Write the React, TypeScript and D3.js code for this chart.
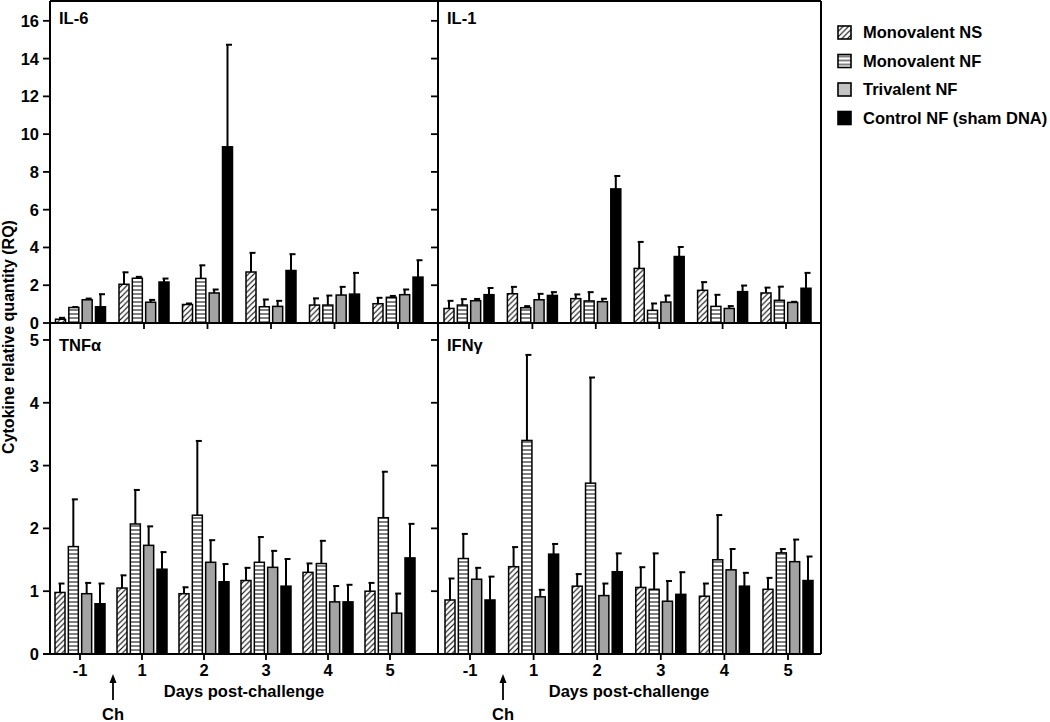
import React from 'react';
import * as d3 from 'd3';

// categories
const days = ['-1', '1', '2', '3', '4', '5'];
const groups = ['Monovalent NS', 'Monovalent NF', 'Trivalent NF', 'Control NF (sham DNA)'];

// IL-6 (mean per group, one value per day) and upper error
const il6Mean = [
  [0.2, 2.05, 0.98, 2.7, 0.95, 1.02],
  [0.82, 2.37, 2.36, 0.86, 0.95, 1.36],
  [1.23, 1.1, 1.59, 0.88, 1.48, 1.5],
  [0.86, 2.17, 9.33, 2.78, 1.53, 2.43],
];
const il6Err = [
  [0.1, 0.66, 0.08, 1.04, 0.38, 0.34],
  [0.05, 0.1, 0.72, 0.41, 0.53, 0.1],
  [0.09, 0.15, 0.21, 0.32, 0.46, 0.3],
  [0.69, 0.21, 5.43, 0.89, 1.15, 0.92],
];

const il1Mean = [
  [0.77, 1.55, 1.29, 2.89, 1.73, 1.59],
  [0.95, 0.81, 1.17, 0.67, 0.88, 1.2],
  [1.18, 1.23, 1.13, 1.11, 0.77, 1.09],
  [1.5, 1.46, 7.1, 3.52, 1.66, 1.84],
];
const il1Err = [
  [0.43, 0.39, 0.25, 1.43, 0.46, 0.31],
  [0.34, 0.11, 0.49, 0.39, 0.64, 0.75],
  [0.12, 0.34, 0.18, 0.37, 0.15, 0.06],
  [0.38, 0.2, 0.71, 0.53, 0.35, 0.84],
];

const tnfMean = [
  [0.98, 1.05, 0.96, 1.17, 1.3, 1.0],
  [1.71, 2.07, 2.21, 1.46, 1.44, 2.17],
  [0.96, 1.73, 1.46, 1.38, 0.83, 0.65],
  [0.8, 1.35, 1.15, 1.08, 0.83, 1.53],
];
const tnfErr = [
  [0.15, 0.21, 0.11, 0.21, 0.15, 0.14],
  [0.76, 0.55, 1.19, 0.41, 0.37, 0.74],
  [0.18, 0.31, 0.36, 0.27, 0.26, 0.32],
  [0.33, 0.28, 0.29, 0.44, 0.28, 0.55],
];

const ifnMean = [
  [0.86, 1.39, 1.08, 1.06, 0.92, 1.03],
  [1.52, 3.4, 2.72, 1.03, 1.5, 1.61],
  [1.19, 0.91, 0.93, 0.84, 1.34, 1.47],
  [0.86, 1.59, 1.31, 0.95, 1.08, 1.17],
];
const ifnErr = [
  [0.35, 0.32, 0.2, 0.33, 0.21, 0.19],
  [0.4, 1.37, 1.69, 0.58, 0.72, 0.07],
  [0.19, 0.12, 0.2, 0.33, 0.34, 0.36],
  [0.38, 0.17, 0.3, 0.36, 0.22, 0.39],
];

const topTicks = [0, 2, 4, 6, 8, 10, 12, 14, 16];
const bottomTicks = [0, 1, 2, 3, 4, 5];

const fills = ['url(#diag)', 'url(#horiz)', '#a3a3a3', '#000'];
const FONT = '"Liberation Sans", Arial, Helvetica, sans-serif';

const L = 50, M = 438, R = 821, T = 1, MID = 323, B = 654;

interface PanelProps {
  name: string;
  mean: number[][];
  err: number[][];
  y: d3.ScaleLinear<number, number>;
  x0: number;
  x1: number;
  left: number;
  labelY: number;
  showXLabels: boolean;
}

const Panel: React.FC<PanelProps> = ({ name, mean, err, y, x0, x1, left, labelY, showXLabels }) => {
  const xDay = d3.scaleLinear().domain([0, days.length - 1]).range([x0, x1]);
  const xBar = d3.scaleBand().domain(groups).range([-25, 25]).paddingInner(0.25);
  const bw = xBar.bandwidth();
  const base = y(0);
  return (
    <g>
      <text x={left + 9} y={labelY} fontSize={16.5} fontWeight="bold" fontFamily={FONT}>{name}</text>
      {groups.map((g, gi) =>
        days.map((d, di) => {
          const cx = xDay(di) + xBar(g)!;
          const v = mean[gi][di];
          const e = v + err[gi][di];
          const mid = cx + bw / 2;
          return (
            <g key={g + d}>
              <line x1={mid} x2={mid} y1={y(v)} y2={y(e)} stroke="#000" strokeWidth={2} />
              <line x1={mid - 1.5} x2={mid + 4.5} y1={y(e) + 0.5} y2={y(e) + 0.5} stroke="#000" strokeWidth={2} />
              <rect x={cx} y={y(v)} width={bw} height={base - y(v)} fill={fills[gi]} stroke="#000" strokeWidth={1.5} />
            </g>
          );
        })
      )}
      {days.map((d, di) => (
        <g key={d}>
          <line x1={xDay(di)} x2={xDay(di)} y1={base} y2={base + 6} stroke="#000" strokeWidth={1.8} />
          {showXLabels && (
            <text x={xDay(di)} y={base + 22} textAnchor="middle" fontSize={16.5} fontWeight="bold" fontFamily={FONT}>{d}</text>
          )}
        </g>
      ))}
    </g>
  );
};

const App: React.FC = () => {
  const yTop = d3.scaleLinear().domain([0, 17.05]).range([MID, T]);
  const yBot = d3.scaleLinear().domain([0, 5.27]).range([B, MID]);

  const yTicks = (scale: d3.ScaleLinear<number, number>, ticks: number[], x: number, labels: boolean) =>
    ticks.map((t) => (
      <g key={t}>
        <line x1={x - 7} x2={x} y1={scale(t)} y2={scale(t)} stroke="#000" strokeWidth={1.8} />
        {labels && (
          <text x={x - 11} y={scale(t) + 6} textAnchor="end" fontSize={16.5} fontWeight="bold" fontFamily={FONT}>{t}</text>
        )}
      </g>
    ));

  const arrow = (x: number) => (
    <g>
      <line x1={x} x2={x} y1={700} y2={680} stroke="#000" strokeWidth={1.8} />
      <path d={`M${x - 3.5},${683} L${x},${674} L${x + 3.5},${683} Z`} fill="#000" />
      <text x={x} y={720} textAnchor="middle" fontSize={16.5} fontWeight="bold" fontFamily={FONT}>Ch</text>
    </g>
  );

  return (
    <svg width={1050} height={722} style={{ position: 'fixed', left: 0, top: 0, background: '#fff' }}>
      <defs>
        <pattern id="diag" patternUnits="userSpaceOnUse" width={5.5} height={5.5}>
          <rect width={5.5} height={5.5} fill="#fff" />
          <path d="M-1,1 l2,-2 M0,5.5 l5.5,-5.5 M4.5,6.5 l2,-2" stroke="#000" strokeWidth={1.1} />
        </pattern>
        <pattern id="horiz" patternUnits="userSpaceOnUse" width={4} height={4}>
          <rect width={4} height={4} fill="#fff" />
          <line x1={0} x2={4} y1={2} y2={2} stroke="#000" strokeWidth={1} />
        </pattern>
      </defs>

      <Panel name="IL-6" mean={il6Mean} err={il6Err} y={yTop} x0={80.5} x1={398} left={L} labelY={24} showXLabels={false} />
      <Panel name="IL-1" mean={il1Mean} err={il1Err} y={yTop} x0={469} x1={786} left={M} labelY={24} showXLabels={false} />
      <Panel name="TNFα" mean={tnfMean} err={tnfErr} y={yBot} x0={80} x1={390} left={L} labelY={351} showXLabels={true} />
      <Panel name="IFNγ" mean={ifnMean} err={ifnErr} y={yBot} x0={470} x1={788} left={M} labelY={351} showXLabels={true} />

      {/* frame */}
      <g stroke="#000" strokeWidth={2} fill="none">
        <line x1={L} x2={R} y1={T} y2={T} />
        <line x1={L} x2={R} y1={MID} y2={MID} />
        <line x1={L - 7} x2={R} y1={B} y2={B} />
        <line x1={L} x2={L} y1={T} y2={B} />
        <line x1={M} x2={M} y1={T} y2={B} />
        <line x1={R} x2={R} y1={T} y2={B} />
      </g>

      {yTicks(yTop, topTicks, L, true)}
      {yTicks(yBot, bottomTicks, L, true)}
      {yTicks(yTop, topTicks.slice(1), M, false)}
      {yTicks(yBot, bottomTicks.slice(1), M, false)}

      <text transform="translate(14,337) rotate(-90)" textAnchor="middle" fontSize={16} fontWeight="bold" fontFamily={FONT}>
        Cytokine relative quantity (RQ)
      </text>
      <text x={244} y={697} textAnchor="middle" fontSize={16.5} fontWeight="bold" fontFamily={FONT}>Days post-challenge</text>
      <text x={629} y={697} textAnchor="middle" fontSize={16.5} fontWeight="bold" fontFamily={FONT}>Days post-challenge</text>
      {arrow(113)}
      {arrow(503)}

      {/* legend */}
      {groups.map((g, i) => (
        <g key={g} transform={`translate(838,${26 + i * 28.5})`}>
          <rect x={0} y={0} width={13} height={13} fill={i === 2 ? '#c4c4c4' : fills[i]} stroke="#000" strokeWidth={1.6} />
          <text x={25} y={12} fontSize={16.5} fontWeight="bold" fontFamily={FONT}>{g}</text>
        </g>
      ))}
    </svg>
  );
};

export default App;
